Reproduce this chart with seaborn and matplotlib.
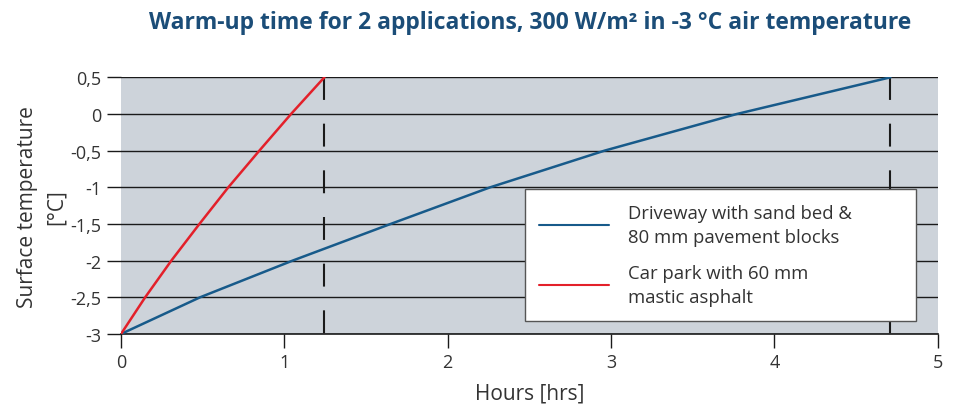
import matplotlib
matplotlib.use("Agg")
import matplotlib.pyplot as plt
import seaborn as sns
import pandas as pd

# Data
series_names = ["Driveway with sand bed &\n80 mm pavement blocks",
                "Car park with 60 mm\nmastic asphalt"]
temps = [-3, -2.5, -2, -1.5, -1, -0.5, 0, 0.5]
driveway_hours = [0, 0.484, 1.05, 1.65, 2.26, 2.96, 3.77, 4.71]
carpark_hours = [0, 0.148, 0.308, 0.48, 0.657, 0.847, 1.041, 1.245]
end_times = [1.245, 4.71]
x_ticks = [0, 1, 2, 3, 4, 5]
y_ticks = [-3, -2.5, -2, -1.5, -1, -0.5, 0, 0.5]
y_tick_labels = ["-3", "-2,5", "-2", "-1,5", "-1", "-0,5", "0", "0,5"]

df = pd.DataFrame({
    "Hours": driveway_hours + carpark_hours,
    "Temp": temps + temps,
    "Series": [series_names[0]] * len(driveway_hours) + [series_names[1]] * len(carpark_hours),
})

sns.set_theme(style="white")
plt.rcParams['font.family'] = ['Open Sans', 'DejaVu Sans']

fig = plt.figure(figsize=(9.55, 4.10), dpi=100)
ax = fig.add_axes([0.1267, 0.183, 0.8553, 0.626])
ax.set_facecolor("#cdd3da")

for yv in y_ticks:
    ax.axhline(yv, color="#1a1a1a", lw=1.0, zorder=1)

for xv in end_times:
    ax.plot([xv, xv], [y_ticks[-1], y_ticks[0]], color="#1a1a1a", lw=1.5,
            dashes=(11, 11.4), zorder=2)

sns.lineplot(data=df, x="Hours", y="Temp", hue="Series",
             palette=["#175a8a", "#e3202a"], linewidth=1.8, ax=ax,
             sort=False, zorder=3)

ax.set_xlim(0, 5)
ax.set_ylim(-3, 0.5)
ax.set_xticks(x_ticks)
ax.set_xticklabels([str(t) for t in x_ticks])
ax.set_yticks(y_ticks)
ax.set_yticklabels(y_tick_labels)
ax.tick_params(axis="both", which="both", direction="out", length=10, width=1.0,
               color="#1a1a1a", labelsize=13, labelcolor="#333333", pad=4,
               left=True, bottom=True)
for s in ["left", "right", "top"]:
    ax.spines[s].set_visible(False)
ax.spines["bottom"].set_color("#1a1a1a")
ax.spines["bottom"].set_linewidth(1.2)

ax.set_xlabel("Hours [hrs]", fontsize=15, color="#333333", labelpad=8)
ax.set_ylabel("Surface temperature\n[°C]", fontsize=15, color="#333333", labelpad=3,
              linespacing=1.45)

leg = ax.legend(loc="upper left", bbox_to_anchor=(0.494, 0.565, 0.479, 0.0),
                mode="expand", fontsize=13.3, frameon=True, fancybox=False,
                handlelength=3.8, handletextpad=1.0, borderpad=0.8,
                labelspacing=0.95, borderaxespad=0)
leg.get_frame().set_edgecolor("#555555")
leg.get_frame().set_facecolor("white")
leg.get_frame().set_alpha(1)
leg.get_frame().set_linewidth(1.0)
for t in leg.get_texts():
    t.set_color("#333333")
    t.set_linespacing(1.45)
for l in leg.get_lines():
    l.set_linewidth(1.5)

fig.text(0.555, 0.945, "Warm-up time for 2 applications, 300 W/m² in -3 °C air temperature",
         ha="center", va="center", fontsize=16.5, fontweight="bold", color="#1b4d78")

fig.savefig("out.png", dpi=100)
